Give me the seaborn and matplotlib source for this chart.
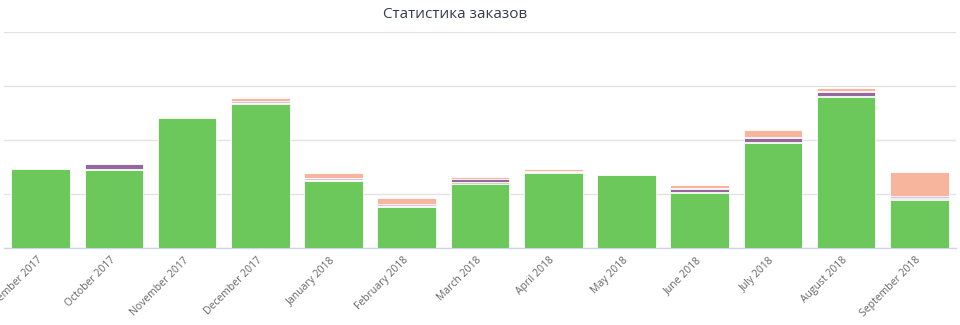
import numpy as np
import pandas as pd
import matplotlib
matplotlib.use("Agg")
import matplotlib.pyplot as plt
import matplotlib.transforms as mtransforms
import seaborn as sns

months = ["September 2017", "October 2017", "November 2017", "December 2017",
          "January 2018", "February 2018", "March 2018", "April 2018",
          "May 2018", "June 2018", "July 2018", "August 2018", "September 2018"]

green    = [73, 72, 120, 133, 62, 38, 59, 69, 68, 51, 97, 140, 44]
grey     = [0, 1.2, 0, 1.2, 1.2, 1.2, 2, 1.2, 0, 1, 1.2, 1.2, 1.2]
purple   = [0, 4.6, 0, 0, 0, 0, 3, 0, 0, 3, 3.7, 2.8, 1.2]
lavender = [0, 0, 1.3, 2, 1.3, 1.3, 0, 1.3, 0, 1, 1.3, 1.3, 1.3]
salmon   = [0, 0, 1.3, 2.8, 4.6, 5.6, 1.3, 1.9, 0, 1.9, 5.6, 2.8, 23]

series = [("green", green, "#6cc85b"),
          ("grey", grey, "#c9d6c4"),
          ("purple", purple, "#94689c"),
          ("lavender", lavender, "#dcc0dc"),
          ("salmon", salmon, "#f6b59c")]

sns.set_theme(style="white")
plt.rcParams["font.family"] = ["Open Sans", "DejaVu Sans"]

fig = plt.figure(figsize=(9.6, 3.25), dpi=100)
ax = fig.add_axes([4/960, 1-248/325, 952/960, (248-32)/325])

cum = np.zeros(len(months))
cums = []
for name, vals, col in series:
    cum = cum + np.array(vals, dtype=float)
    cums.append((name, cum.copy(), col))

df = pd.DataFrame({"month": months})
for name, c, col in reversed(cums):
    df["v"] = c
    sns.barplot(data=df, x="month", y="v", color=col, saturation=1,
                edgecolor="white", linewidth=0.6, width=0.8, ax=ax, zorder=3)

ax.set_ylim(0, 200)
ax.set_xlim(-0.5, len(months) - 0.5)
ax.set_yticks([0, 50, 100, 150, 200])
ax.set_yticklabels([])
ax.tick_params(axis="y", length=0)
ax.grid(axis="y", color="#e3e3e3", linewidth=1, zorder=0)
ax.set_axisbelow(True)
for s in ["left", "right", "top"]:
    ax.spines[s].set_visible(False)
ax.spines["bottom"].set_color("#ccd6eb")
ax.spines["bottom"].set_linewidth(1)
ax.set_xlabel("")
ax.set_ylabel("")

ax.set_xticks(range(len(months)))
ax.set_xticklabels(months, rotation=45, ha="right", rotation_mode="anchor",
                   fontsize=7.5, color="#666666")
ax.tick_params(axis="x", which="major", length=0, pad=5)
offset = mtransforms.ScaledTranslation(-4/100, 0, fig.dpi_scale_trans)
for lbl in ax.get_xticklabels():
    lbl.set_transform(lbl.get_transform() + offset)
ax.set_xticks(np.arange(-0.5, len(months), 1), minor=True)
ax.tick_params(axis="x", which="minor", length=5, color="#ccd6eb", width=1)

fig.text(455/960, 1-14/325, "Статистика заказов", ha="center", va="center",
         fontsize=11, color="#333d4d")

fig.savefig("out.png", dpi=100)
